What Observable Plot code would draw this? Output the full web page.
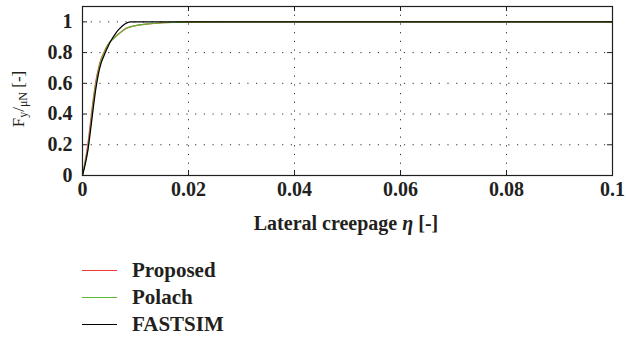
<!DOCTYPE html>
<html>
<head>
<meta charset="utf-8">
<script src="https://cdn.jsdelivr.net/npm/d3@7"></script>
<script src="https://cdn.jsdelivr.net/npm/@observablehq/plot@0.6"></script>
<style>
  body { margin: 0; background: #fff; font-family: "Liberation Serif", serif; }
  #legend { padding-left: 82px; margin-top: 17px; }
  .row { display: flex; align-items: center; height: 27px; font-weight: bold; font-size: 21px; color: #231f20; }
  .sw { width: 35px; height: 0; border-top: 1.4px solid; margin-right: 15px; }
  svg text { font-family: "Liberation Serif", serif !important; }
</style>
</head>
<body>
<div id="chart"></div>
<div id="legend"></div>
<script>
// Lateral creepage values (x)
const etaPolach   = [0, 0.0005, 0.001, 0.0015, 0.002, 0.0025, 0.003, 0.0035, 0.004, 0.0045, 0.005, 0.006, 0.007, 0.008, 0.009, 0.01, 0.012, 0.014, 0.017, 0.02, 0.03, 0.1];
const polach      = [0, 0.08, 0.17, 0.31, 0.46, 0.59, 0.68, 0.75, 0.79, 0.83, 0.86, 0.895, 0.925, 0.952, 0.967, 0.975, 0.985, 0.991, 0.996, 0.998, 1, 1];
const proposed    = [0, 0.095, 0.20, 0.345, 0.49, 0.61, 0.695, 0.758, 0.797, 0.835, 0.862, 0.897, 0.927, 0.953, 0.967, 0.975, 0.985, 0.991, 0.996, 0.998, 1, 1];
const etaFastsim  = [0, 0.0005, 0.001, 0.0015, 0.002, 0.0025, 0.003, 0.0035, 0.004, 0.0045, 0.005, 0.0055, 0.006, 0.0065, 0.007, 0.0075, 0.008, 0.0085, 0.009, 0.01, 0.1];
const fastsim     = [0, 0.07, 0.16, 0.29, 0.43, 0.56, 0.66, 0.73, 0.775, 0.815, 0.853, 0.885, 0.912, 0.936, 0.956, 0.973, 0.986, 0.995, 1, 1, 1];

const seriesNames  = ["Proposed", "Polach", "FASTSIM"];
const seriesColors = ["#f03a3a", "#5cb833", "#000000"];
const xTicks = [0, 0.02, 0.04, 0.06, 0.08, 0.1];
const yTicks = [0, 0.2, 0.4, 0.6, 0.8, 1];

const rows = [
  ...etaPolach.map((x, i) => ({x, y: proposed[i], s: "Proposed"})),
  ...etaPolach.map((x, i) => ({x, y: polach[i], s: "Polach"})),
  ...etaFastsim.map((x, i) => ({x, y: fastsim[i], s: "FASTSIM"}))
];

const fmt = d => d === 0 ? "0" : String(+d.toFixed(2));
const W = 626, H = 240, mT = 6, mB = 65;
const innerH = H - mT - mB;
const FF = "Liberation Serif";

const plot = Plot.plot({
  width: W, height: H,
  marginLeft: 82, marginRight: 14, marginTop: mT, marginBottom: mB,
  style: {fontFamily: FF, fontSize: "20px", fontWeight: "bold", color: "#231f20", background: "#fff"},
  x: {domain: [0, 0.1]},
  y: {domain: [0, 1.1]},
  color: {domain: seriesNames, range: seriesColors},
  marks: [
    Plot.gridX(xTicks.slice(1, -1), {stroke: "#333", strokeOpacity: 1, strokeDasharray: "1.2,7.5"}),
    Plot.gridY(yTicks.slice(1), {stroke: "#333", strokeOpacity: 1, strokeDasharray: "1.2,7.5"}),
    Plot.ruleX(xTicks, {stroke: "#231f20", insetTop: innerH - 5}),
    Plot.ruleX(xTicks, {stroke: "#231f20", insetBottom: innerH - 5}),
    Plot.ruleY(yTicks, {stroke: "#231f20", insetRight: 530 - 5}),
    Plot.ruleY(yTicks, {stroke: "#231f20", insetLeft: 530 - 5}),
    Plot.axisX(xTicks, {tickSize: 0, tickPadding: 6, tickFormat: fmt, label: null, fontSize: 20, fontWeight: "bold"}),
    Plot.axisY(yTicks, {tickSize: 0, tickPadding: 10, tickFormat: fmt, label: null, fontSize: 20, fontWeight: "bold"}),
    Plot.line(rows, {x: "x", y: "y", z: "s", stroke: "s", strokeWidth: 1.2, curve: "monotone-x"}),
    Plot.frame({stroke: "#231f20", strokeWidth: 1.2})
  ]
});
document.getElementById("chart").appendChild(plot);

const svg = d3.select(plot);
svg.selectAll("text").attr("font-family", FF).style("font-family", FF).style("font-weight", "bold").attr("fill", "#231f20");
// x-axis label
const xl = svg.append("text")
  .attr("x", 346).attr("y", 230)
  .attr("text-anchor", "middle")
  .style("font-family", FF)
  .style("font-weight", "bold").style("font-size", "20px");
xl.append("tspan").text("Lateral creepage ");
xl.append("tspan").style("font-style", "italic").text("η");
xl.append("tspan").text(" [-]");
// y-axis label
const yl = svg.append("text")
  .attr("transform", "translate(24,99) rotate(-90)")
  .attr("text-anchor", "middle")
  .style("font-family", FF)
  .style("font-weight", "normal").style("font-size", "17px");
yl.append("tspan").text("F");
yl.append("tspan").attr("dy", 3).style("font-size", "12px").text("y");
yl.append("tspan").attr("dy", -3).text("/");
yl.append("tspan").attr("dy", 3).style("font-size", "12px").text("μN");
yl.append("tspan").attr("dy", -3).text(" [-]");

// legend
const lg = d3.select("#legend");
seriesNames.forEach((n, i) => {
  const r = lg.append("div").attr("class", "row");
  r.append("div").attr("class", "sw").style("border-top-color", seriesColors[i]);
  r.append("span").text(n);
});
</script>
</body>
</html>
